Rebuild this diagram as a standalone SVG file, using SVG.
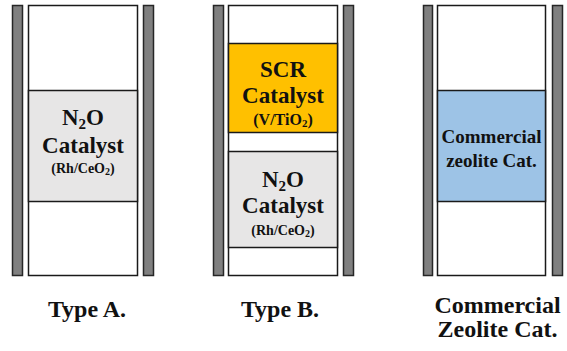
<svg xmlns="http://www.w3.org/2000/svg" width="567" height="351" viewBox="0 0 567 351">
<style>
.bar{fill:#808080;stroke:#262626;stroke-width:1.5}
.tube{fill:#ffffff;stroke:#1a1a1a;stroke-width:1.5}
.sec{stroke:#1a1a1a;stroke-width:1.5}
.gray{fill:#e7e6e6}
.scr{fill:#ffc000}
.blue{fill:#9dc3e6}
.t{font-weight:bold;fill:#111;text-anchor:middle}
.big{font-size:23px}
.small{font-size:14px}
.zeo{font-size:19px}
.lab{font-size:24px}
</style>
<rect width="567" height="351" fill="#ffffff"/>
<g id="typeA" font-family="Liberation Serif">
<rect class="bar" x="12.5" y="5.5" width="10" height="270"/>
<rect class="bar" x="143.5" y="5.5" width="10" height="270"/>
<rect class="tube" x="28.5" y="5.5" width="109" height="270"/>
<rect class="sec gray" x="28.5" y="90.5" width="109" height="111"/>
<text class="t big" x="83" y="125" font-family="Liberation Serif">N<tspan font-size="15" dy="4">2</tspan><tspan dy="-4">O</tspan></text>
<text class="t big" x="83" y="153" font-family="Liberation Serif">Catalyst</text>
<text class="t small" x="83" y="173" font-family="Liberation Serif">(Rh/CeO<tspan font-size="10" dy="2">2</tspan><tspan dy="-2">)</tspan></text>
<text class="t lab" x="87" y="317" font-family="Liberation Serif">Type A.</text>
</g>
<g id="typeB" font-family="Liberation Serif">
<rect class="bar" x="213.5" y="5.5" width="10" height="270"/>
<rect class="bar" x="343.5" y="5.5" width="10" height="270"/>
<rect class="tube" x="228.5" y="5.5" width="109" height="270"/>
<rect class="sec scr" x="228.5" y="43.5" width="109" height="89"/>
<rect class="sec gray" x="228.5" y="151.5" width="109" height="96"/>
<text class="t big" x="283" y="77" font-family="Liberation Serif">SCR</text>
<text class="t big" x="283" y="103" font-family="Liberation Serif">Catalyst</text>
<text class="t small" x="283" y="125" font-family="Liberation Serif" style="font-size:16px">(V/TiO<tspan font-size="11" dy="2">2</tspan><tspan dy="-2">)</tspan></text>
<text class="t big" x="283" y="187" font-family="Liberation Serif">N<tspan font-size="15" dy="4">2</tspan><tspan dy="-4">O</tspan></text>
<text class="t big" x="283" y="213" font-family="Liberation Serif">Catalyst</text>
<text class="t small" x="283" y="235" font-family="Liberation Serif">(Rh/CeO<tspan font-size="10" dy="2">2</tspan><tspan dy="-2">)</tspan></text>
<text class="t lab" x="280" y="317" font-family="Liberation Serif">Type B.</text>
</g>
<g id="commercial" font-family="Liberation Serif">
<rect class="bar" x="423.5" y="5.5" width="9" height="270"/>
<rect class="bar" x="552.5" y="5.5" width="10" height="270"/>
<rect class="tube" x="437.5" y="5.5" width="108" height="270"/>
<rect class="sec blue" x="437.5" y="90.5" width="108" height="111"/>
<text class="t zeo" x="491.5" y="143" font-family="Liberation Serif">Commercial</text>
<text class="t zeo" x="491.5" y="167" font-family="Liberation Serif">zeolite Cat.</text>
<text class="t lab" x="497.5" y="313" font-family="Liberation Serif">Commercial</text>
<text class="t lab" x="497.5" y="337" font-family="Liberation Serif">Zeolite Cat.</text>
</g>
<g id="connectors"/>
</svg>
